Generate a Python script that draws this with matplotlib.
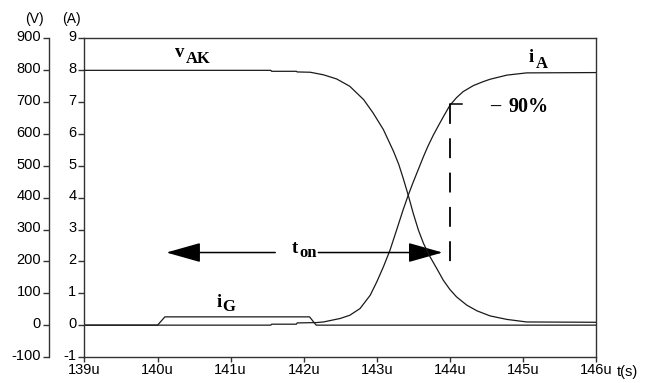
import matplotlib
matplotlib.use("Agg")
import matplotlib.pyplot as plt
from matplotlib import transforms

plt.rcParams["axes.unicode_minus"] = False

# anode voltage v_AK (V) vs time (us)
t_vak = [139.0, 141.55, 141.56, 141.90, 141.91, 142.09, 142.27, 142.45, 142.63, 142.82,
         142.95, 143.09, 143.23, 143.30, 143.36, 143.43, 143.50, 143.57, 143.64, 143.73,
         143.82, 143.91, 144.00, 144.09, 144.23, 144.37, 144.55, 144.78, 145.05, 146.0]
v_ak = [800, 800, 797, 797, 795, 794, 786, 773, 750, 708,
        666, 614, 545, 505, 462, 408, 350, 298, 256, 214,
        178, 141, 112, 89, 63, 45, 29, 18, 10, 9]

# anode current i_A (A)
t_ia = [139.0, 141.55, 141.56, 141.90, 141.91, 142.17, 142.27, 142.50, 142.63, 142.77,
        142.91, 143.00, 143.09, 143.18, 143.27, 143.36, 143.43, 143.50, 143.57, 143.64,
        143.70, 143.77, 143.84, 143.91, 144.00, 144.09, 144.18, 144.32, 144.45, 144.55,
        144.78, 145.05, 146.0]
i_a = [0, 0, 0.03, 0.03, 0.07, 0.08, 0.10, 0.21, 0.31, 0.52,
       0.94, 1.36, 1.83, 2.35, 2.98, 3.62, 4.08, 4.50, 4.90, 5.30,
       5.62, 5.95, 6.25, 6.54, 6.90, 7.14, 7.33, 7.52, 7.64, 7.72,
       7.85, 7.92, 7.93]

# gate current i_G (A)
t_ig = [139.0, 140.0, 140.1, 142.08, 142.17, 146.0]
i_g = [0, 0, 0.26, 0.26, 0, 0]

x_ticks = [139, 140, 141, 142, 143, 144, 145, 146]
x_labels = [f"{t}u" for t in x_ticks]
a_ticks = list(range(-1, 10))
v_ticks = list(range(-100, 1000, 100))

# t_on interval and 90 % point
t_on_start = 140.12
t_on_end = 143.90
t_90 = 144.0
i_90 = 6.93

tick_font = ["Liberation Sans", "DejaVu Sans"]
serif = ["Liberation Serif", "DejaVu Serif"]
line_col = "#1a1a1a"

fig = plt.figure(figsize=(6.48, 3.83), dpi=100)
ax = fig.add_axes([0.1304, 0.0679, 0.7894, 0.8316])
ax.set_xlim(139, 146)
ax.set_ylim(-1, 9)

ax.plot(t_ig, i_g, color=line_col, lw=0.9)
ax.plot(t_ia, i_a, color=line_col, lw=0.9)

# second (voltage) axis, drawn further left
ax2 = ax.twinx()
ax2.set_ylim(-100, 900)
ax2.plot(t_vak, v_ak, color=line_col, lw=0.9)
for s in ["top", "bottom", "right"]:
    ax2.spines[s].set_visible(False)
ax2.spines["left"].set_visible(True)
ax2.spines["left"].set_position(("outward", 25.5))
ax2.yaxis.set_ticks_position("left")
ax2.set_yticks(v_ticks)

for a in (ax, ax2):
    for s in a.spines.values():
        s.set_color("#333333")
        s.set_linewidth(1.0)

ax.set_xticks(x_ticks)
ax.set_xticklabels(x_labels)
ax.set_yticks(a_ticks)
ax.tick_params(axis="x", direction="out", length=3.5, width=1, pad=0.5, color="#333333")
ax.tick_params(axis="y", direction="out", length=4.3, width=1, pad=1.5, color="#333333")
ax2.tick_params(axis="y", direction="out", length=4.3, width=1, pad=1.5, color="#333333")

lift = transforms.ScaledTranslation(0, 2 / 72, fig.dpi_scale_trans)
for a in (ax, ax2):
    for lab in a.get_yticklabels():
        lab.set_fontfamily(tick_font)
        lab.set_fontsize(10.5)
        lab.set_verticalalignment("center_baseline")
        lab.set_transform(lab.get_transform() + lift)
for lab in ax.get_xticklabels():
    lab.set_fontfamily(tick_font)
    lab.set_fontsize(10.5)

ax.text(-0.097, 1.062, "(V)", transform=ax.transAxes, ha="center", va="center",
        family=tick_font, fontsize=10)
ax.text(-0.026, 1.062, "(A)", transform=ax.transAxes, ha="center", va="center",
        family=tick_font, fontsize=10)
ax.text(1.04, -0.047, "t(s)", transform=ax.transAxes, ha="left", va="center",
        family=tick_font, fontsize=10.5)


def sub_label(t0, y0, main, t1, y1, sub):
    ax.text(t0, y0, main, family=serif, weight="bold", fontsize=13.5,
            ha="left", va="baseline")
    ax.text(t1, y1, sub, family=serif, weight="bold", fontsize=12,
            ha="left", va="baseline")


sub_label(140.24, 8.42, "v", 140.39, 8.22, "AK")
sub_label(145.08, 8.27, "i", 145.17, 8.06, "A")
sub_label(140.81, 0.57, "i", 140.88, 0.44, "G")
sub_label(141.84, 2.25, "t", 141.94, 2.13, "on")

# t_on arrows
arrow = dict(arrowstyle="-|>,head_length=2.16,head_width=0.61", mutation_scale=10,
             lw=1.1, color="black", shrinkA=0, shrinkB=0)
ax.annotate("", xy=(t_on_start, 2.28), xytext=(141.61, 2.28), arrowprops=arrow)
ax.annotate("", xy=(t_on_end, 2.28), xytext=(142.20, 2.28), arrowprops=arrow)

# 90 % marker
ax.plot([t_90, t_90], [i_90, 1.57], color="black", lw=1.3, ls=(0, (11, 8)))
ax.plot([t_90, t_90 + 0.17], [i_90, i_90], color="black", lw=1.1)
ax.text(144.55, 6.70, "\u2013", family=serif, weight="bold", fontsize=14.5,
        ha="left", va="baseline")
ax.text(144.80, 6.70, "90%", family=serif, weight="bold", fontsize=14.5,
        ha="left", va="baseline")

fig.savefig("out.png", dpi=100)
